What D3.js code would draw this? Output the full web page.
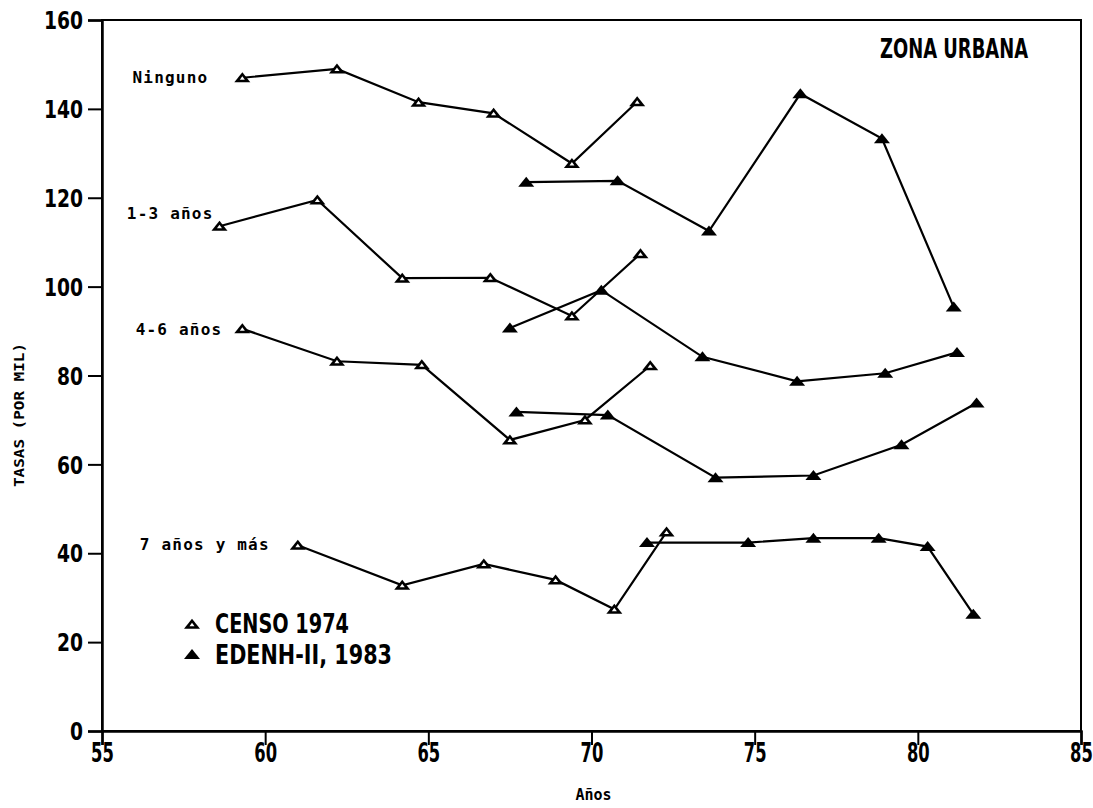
<!DOCTYPE html>
<html>
<head>
<meta charset="utf-8">
<script src="https://cdn.jsdelivr.net/npm/d3@7"></script>
<style>
  body { margin: 0; background: #fff; }
  svg { display: block; }
  .tick text { font-family: "DejaVu Sans Condensed", "DejaVu Sans", sans-serif; font-weight: bold; }
  .big { font-family: "DejaVu Sans Condensed", "DejaVu Sans", sans-serif; font-weight: bold; }
  .mono { font-family: "DejaVu Sans Mono", monospace; font-weight: bold; }
</style>
</head>
<body>
<svg id="chart" width="1093" height="808"></svg>
<script>
// axis ticks
const xTicks = [55, 60, 65, 70, 75, 80, 85];
const yTicks = [0, 20, 40, 60, 80, 100, 120, 140, 160];

// Ninguno
const ninguno74Years = [59.3, 62.2, 64.7, 67.0, 69.4, 71.4];
const ninguno74Rates = [147, 149, 141.5, 139, 127.7, 141.6];
const ninguno83Years = [68.0, 70.8, 73.6, 76.4, 78.9, 81.1];
const ninguno83Rates = [123.5, 123.8, 112.5, 143.4, 133.3, 95.4];

// 1-3 años
const anos13_74Years = [58.6, 61.6, 64.2, 66.9, 69.4, 71.5];
const anos13_74Rates = [113.6, 119.5, 101.9, 102, 93.4, 107.4];
const anos13_83Years = [67.5, 70.3, 73.4, 76.3, 79.0, 81.2];
const anos13_83Rates = [90.7, 99.2, 84.2, 78.7, 80.5, 85.2];

// 4-6 años
const anos46_74Years = [59.3, 62.2, 64.8, 67.5, 69.8, 71.8];
const anos46_74Rates = [90.5, 83.2, 82.4, 65.5, 70, 82.2];
const anos46_83Years = [67.7, 70.5, 73.8, 76.8, 79.5, 81.8];
const anos46_83Rates = [71.8, 71.1, 57, 57.5, 64.4, 73.8];

// 7 años y más
const anos7_74Years = [61.0, 64.2, 66.7, 68.9, 70.7, 72.3];
const anos7_74Rates = [41.8, 32.8, 37.6, 34, 27.4, 44.8];
const anos7_83Years = [71.7, 74.8, 76.8, 78.8, 80.3, 81.7];
const anos7_83Rates = [42.4, 42.4, 43.4, 43.4, 41.5, 26.3];

const groupLabels = ["Ninguno", "1-3 años", "4-6 años", "7 años y más"];
const legendLabels = ["CENSO 1974", "EDENH-II, 1983"];

const series = [
  { years: ninguno74Years, rates: ninguno74Rates, open: true, label: groupLabels[0] },
  { years: ninguno83Years, rates: ninguno83Rates, open: false },
  { years: anos13_74Years, rates: anos13_74Rates, open: true, label: groupLabels[1] },
  { years: anos13_83Years, rates: anos13_83Rates, open: false },
  { years: anos46_74Years, rates: anos46_74Rates, open: true, label: groupLabels[2] },
  { years: anos46_83Years, rates: anos46_83Rates, open: false },
  { years: anos7_74Years, rates: anos7_74Rates, open: true, label: groupLabels[3] },
  { years: anos7_83Years, rates: anos7_83Rates, open: false }
];

const svg = d3.select("#chart");
const plotL = 102, plotR = 1081, plotT = 20, plotB = 731;

const x = d3.scaleLinear().domain([55, 85]).range([plotL, plotR]);
const y = d3.scaleLinear().domain([0, 160]).range([plotB, plotT]);

// frame
svg.append("rect")
  .attr("x", plotL).attr("y", plotT)
  .attr("width", plotR - plotL).attr("height", plotB - plotT)
  .attr("fill", "none").attr("stroke", "#000").attr("stroke-width", 2);

// y axis
const yAxis = svg.append("g")
  .attr("transform", `translate(${plotL},0)`)
  .call(d3.axisLeft(y).tickValues(yTicks).tickSize(14).tickPadding(5));
yAxis.select(".domain").attr("stroke-width", 2.5);
yAxis.selectAll(".tick line").attr("stroke-width", 2);
yAxis.selectAll(".tick text")
  .style("font-size", "24px").attr("dy", "0.36em")
  .attr("textLength", d => String(d).length * 13).attr("lengthAdjust", "spacingAndGlyphs");

// x axis
const xAxis = svg.append("g")
  .attr("transform", `translate(0,${plotB})`)
  .call(d3.axisBottom(x).tickValues(xTicks).tickSize(14).tickPadding(0));
xAxis.select(".domain").attr("stroke-width", 2.5);
xAxis.selectAll(".tick line").attr("stroke-width", 2);
xAxis.selectAll(".tick text")
  .style("font-size", "26px").attr("dy", "0.78em").attr("y", 11)
  .attr("transform", "scale(0.7,1)");

// axis titles
svg.append("text")
  .attr("class", "mono")
  .attr("x", (plotL + plotR) / 2 + 2).attr("y", 800)
  .attr("text-anchor", "middle")
  .style("font-size", "15px")
  .text("Años");

svg.append("text")
  .attr("class", "mono")
  .attr("transform", "translate(24,415) rotate(-90)")
  .attr("text-anchor", "middle")
  .attr("textLength", 144).attr("lengthAdjust", "spacingAndGlyphs")
  .style("font-size", "14px")
  .text("TASAS (POR MIL)");

svg.append("text")
  .attr("class", "big")
  .attr("x", 1028).attr("y", 58)
  .attr("text-anchor", "end")
  .attr("textLength", 148).attr("lengthAdjust", "spacingAndGlyphs")
  .style("font-size", "26px")
  .text("ZONA URBANA");

const line = d3.line().x(d => x(d[0])).y(d => y(d[1]));

function drawTriangle(g, cx, cy, open) {
  g.append("path")
    .attr("d", `M${cx - 8},${cy + 4.5}L${cx + 8},${cy + 4.5}L${cx},${cy - 5.5}Z`)
    .attr("fill", "#000");
  if (open) {
    g.append("path")
      .attr("d", `M${cx - 2.5},${cy + 2}L${cx + 2.5},${cy + 2}L${cx},${cy - 1.5}Z`)
      .attr("fill", "#fff");
  }
}

const marks = svg.append("g");
series.forEach(s => {
  const pts = s.years.map((yr, i) => [yr, s.rates[i]]);
  marks.append("path")
    .datum(pts)
    .attr("d", line)
    .attr("fill", "none")
    .attr("stroke", "#000")
    .attr("stroke-width", 2.2);
});
series.forEach(s => {
  s.years.forEach((yr, i) => drawTriangle(marks, x(yr), y(s.rates[i]), s.open));
});

// group labels, left of each series' first point
const labelGap = [34, 6, 20, 28];
const labelDy = [5, -7, 6, 5];
series.filter(s => s.label).forEach((s, i) => {
  svg.append("text")
    .attr("class", "mono")
    .attr("x", x(s.years[0]) - labelGap[i])
    .attr("y", y(s.rates[0]) + labelDy[i])
    .attr("text-anchor", "end")
    .style("font-size", "16px")
    .style("letter-spacing", "1.2px")
    .text(s.label);
});

// legend
const legendY = [y(24), y(17.2)];
const legendWidth = [134, 177];
legendLabels.forEach((lab, i) => {
  drawTriangle(svg, 192, legendY[i], i === 0);
  svg.append("text")
    .attr("class", "big")
    .attr("x", 215).attr("y", legendY[i] + 9)
    .attr("textLength", legendWidth[i]).attr("lengthAdjust", "spacingAndGlyphs")
    .style("font-size", "26px")
    .text(lab);
});
</script>
</body>
</html>
